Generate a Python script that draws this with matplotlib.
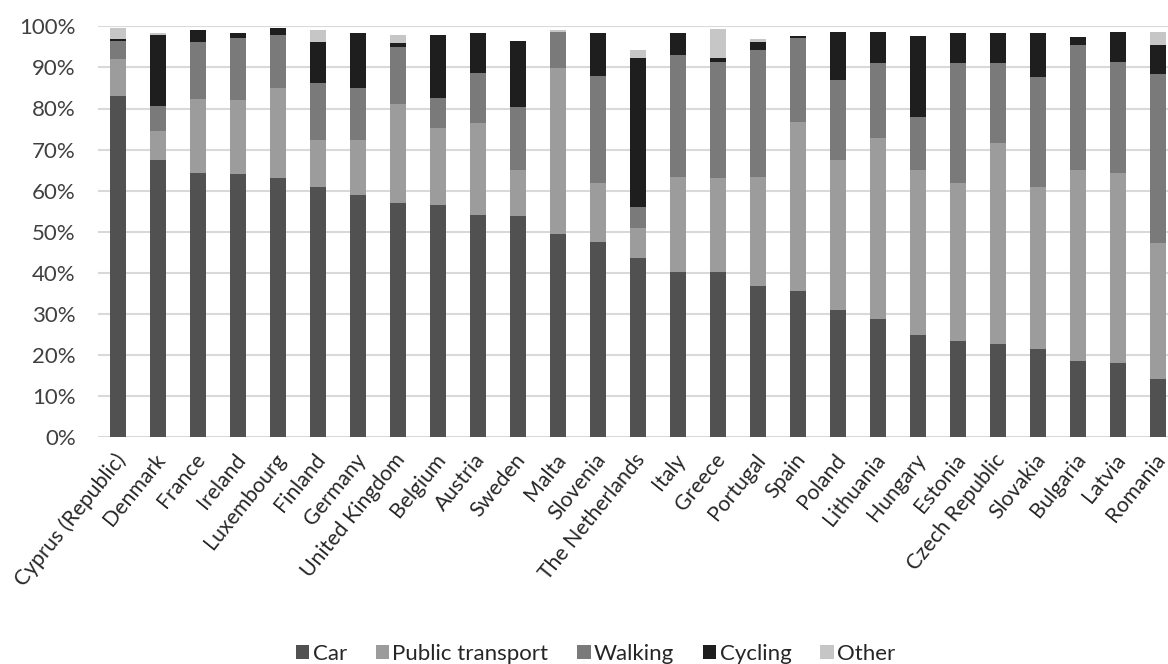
import matplotlib
matplotlib.use("Agg")
import matplotlib.pyplot as plt
import matplotlib.transforms as mtransforms
import numpy as np

plt.rcParams['font.family'] = ['Lato', 'DejaVu Sans']

countries = ["Cyprus (Republic)", "Denmark", "France", "Ireland", "Luxembourg", "Finland",
             "Germany", "United Kingdom", "Belgium", "Austria", "Sweden", "Malta", "Slovenia",
             "The Netherlands", "Italy", "Greece", "Portugal", "Spain", "Poland", "Lithuania",
             "Hungary", "Estonia", "Czech Republic", "Slovakia", "Bulgaria", "Latvia", "Romania"]

# shares in %
car = [83.0, 67.5, 64.3, 64.0, 63.0, 60.9, 59.0, 57.0, 56.5, 54.0, 53.8, 49.5, 47.4,
       43.6, 40.3, 40.3, 36.7, 35.7, 31.0, 28.9, 25.0, 23.5, 22.6, 21.5, 18.6, 18.0, 14.3]
public_transport = [9.0, 7.0, 17.9, 18.1, 22.0, 11.4, 13.4, 24.0, 18.7, 22.4, 11.2, 40.4, 14.4,
                    7.4, 23.0, 22.7, 26.6, 41.0, 36.5, 43.9, 40.0, 38.4, 49.0, 39.4, 46.4, 46.2, 33.0]
walking = [4.5, 6.0, 13.9, 15.0, 12.8, 13.9, 12.6, 13.9, 7.3, 12.2, 15.4, 8.7, 26.2,
           5.1, 29.7, 28.3, 30.9, 20.4, 19.5, 18.2, 12.9, 29.1, 19.5, 26.7, 30.4, 27.1, 41.0]
cycling = [0.5, 17.3, 2.9, 1.3, 1.7, 9.9, 13.4, 1.0, 15.4, 9.8, 16.1, 0.0, 10.4,
           36.2, 5.4, 1.0, 2.1, 0.5, 11.7, 7.7, 19.7, 7.3, 7.2, 10.7, 1.9, 7.4, 7.2]
other = [2.5, 0.5, 0.0, 0.0, 0.0, 2.9, 0.0, 2.0, 0.0, 0.0, 0.0, 0.5, 0.0,
         2.0, 0.0, 7.0, 0.5, 0.0, 0.0, 0.0, 0.0, 0.0, 0.0, 0.0, 0.0, 0.0, 3.0]

series = [("Car", car, "#515151"), ("Public transport", public_transport, "#9c9c9c"),
          ("Walking", walking, "#7a7a7a"), ("Cycling", cycling, "#1e1e1e"),
          ("Other", other, "#c6c6c6")]

fig = plt.figure(figsize=(11.68, 6.64), dpi=100)
ax = fig.add_axes([98 / 1168, 226.7 / 664, 1080 / 1168, 411 / 664])

x = np.arange(len(countries))
bottom = np.zeros(len(countries))
for name, vals, col in series:
    ax.bar(x, vals, 0.4, bottom=bottom, color=col, label=name, zorder=3)
    bottom += np.array(vals)

ax.set_xlim(-0.5, len(countries) - 0.5)
ax.set_ylim(0, 100)
ax.set_yticks(np.arange(0, 101, 10))
ax.set_yticklabels([f"{v}%" for v in range(0, 101, 10)])
ax.grid(axis='y', color='#d9d9d9', linewidth=1.5, zorder=0)
for s in ax.spines.values():
    s.set_visible(False)
ax.tick_params(length=0)
ax.tick_params(axis='y', labelsize=16, labelcolor='#404040', pad=16)
ax.set_xticks(x)
ax.set_xticklabels(countries, rotation=51, ha='right', va='top', rotation_mode='anchor',
                   fontsize=15.3, color='#262626')
ax.tick_params(axis='x', pad=9)
# nudge the country names a little to the left so the last one stays inside
shift = mtransforms.ScaledTranslation(-4 / 100, 0, fig.dpi_scale_trans)
for lbl in ax.get_xticklabels():
    lbl.set_transform(lbl.get_transform() + shift)

fig.legend(loc='lower center', bbox_to_anchor=(0.51, -0.03), ncol=5, frameon=False,
           fontsize=16, handlelength=0.6, handleheight=0.6, handletextpad=0.15,
           columnspacing=1.3, labelcolor='#262626')

fig.savefig("out.png", dpi=100)
